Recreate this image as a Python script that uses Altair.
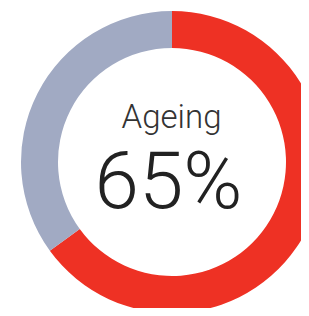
import altair as alt
import pandas as pd

categories = ["Ageing", "Other"]
values = [65, 35]
order = [0, 1]
colors = ["#EE3124", "#A1AAC3"]
title_text = ["Ageing"]
value_text = ["65%"]

df = pd.DataFrame({"cat": categories, "val": values, "ord": order})

cx, cy = 164, 154

ring = alt.Chart(df).mark_arc(outerRadius=151, innerRadius=114).encode(
    theta=alt.Theta("val:Q", stack=True),
    order=alt.Order("ord:Q"),
    color=alt.Color("cat:N", scale=alt.Scale(domain=categories, range=colors), legend=None),
    x=alt.value(cx),
    y=alt.value(cy),
)

t1 = alt.Chart(pd.DataFrame({"t": title_text})).mark_text(
    font="Roboto", fontSize=33, fontWeight=300, color="#333333", baseline="alphabetic", align="center"
).encode(text="t:N", x=alt.value(163.5), y=alt.value(120))

t2 = alt.Chart(pd.DataFrame({"t": value_text})).mark_text(
    font="Roboto", fontSize=80, fontWeight=300, color="#222222", baseline="alphabetic", align="center"
).encode(text="t:N", x=alt.value(160.5), y=alt.value(200))

chart = alt.layer(ring, t1, t2).properties(
    width=293, height=300, padding=0, autosize=alt.AutoSizeParams(type="none")
).configure_view(stroke=None)

chart.save("out.html", embed_options={"renderer": "svg", "actions": False})
